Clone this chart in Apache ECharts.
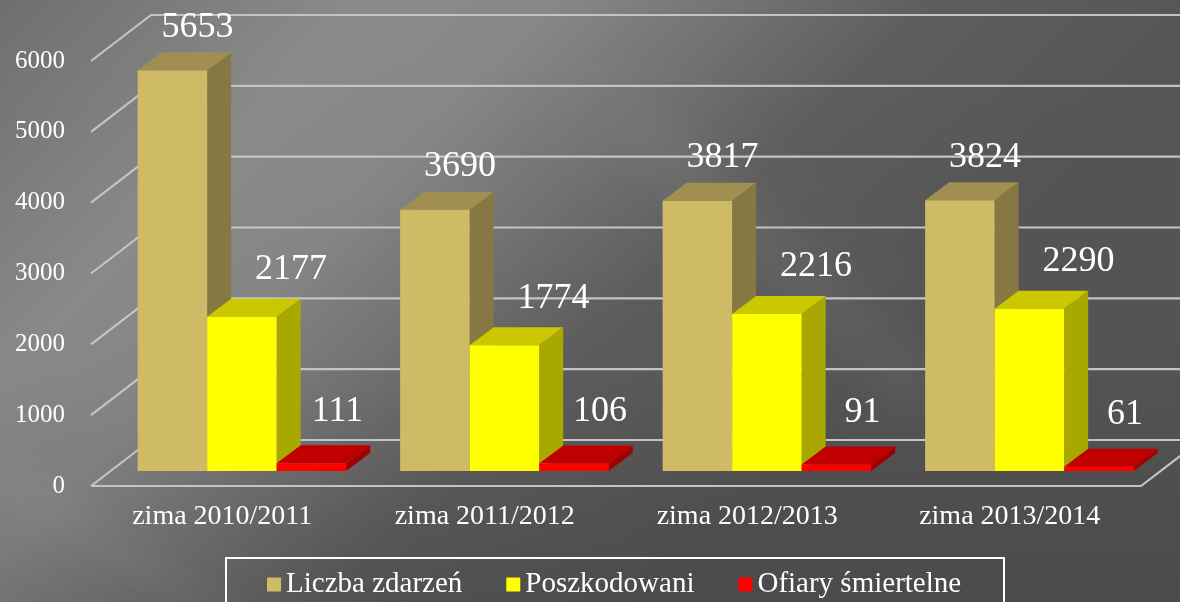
<!DOCTYPE html>
<html><head><meta charset="utf-8">
<script src="https://cdn.jsdelivr.net/npm/echarts@6/dist/echarts.min.js"></script>
<style>html,body{margin:0;padding:0;background:#555}#c{width:1180px;height:602px}</style>
</head><body><div id="c"></div>
<script>
const categories = ['zima 2010/2011', 'zima 2011/2012', 'zima 2012/2013', 'zima 2013/2014'];
const seriesNames = ['Liczba zdarzeń', 'Poszkodowani', 'Ofiary śmiertelne'];
const liczbaZdarzen = [5653, 3690, 3817, 3824];
const poszkodowani = [2177, 1774, 2216, 2290];
const ofiarySmiertelne = [111, 106, 91, 61];
const yTicks = [0, 1000, 2000, 3000, 4000, 5000, 6000];

const FONT = '"Liberation Serif", "Times New Roman", serif';
const DEPTH = [60, -46];      // wall depth offset
const BAR_FRONT = [19.6, -15];
const BAR_DEPTH = [24, -18];
const faceColors = [
  { front: '#CFBB66', top: '#A08F50', side: '#857843' },
  { front: '#FFFF00', top: '#CCC800', side: '#A8A800' },
  { front: '#FF0000', top: '#C00000', side: '#A00000' }
];
const labelOff = [[25, 43], [49, 47], [26, 52]];

function barRender(s) {
  return function (params, api) {
    const band = api.size([1, 0])[0];
    const idx = api.value(0), val = api.value(1);
    const c = api.coord([idx, val]);
    const c0 = api.coord([idx, 0]);
    const bw = band * 0.2648;
    const x0 = c0[0] - band * 0.397 + s * bw + BAR_FRONT[0];
    const x1 = x0 + bw;
    const yt = c[1] + BAR_FRONT[1];
    const yb = c0[1] + BAR_FRONT[1];
    const dx = BAR_DEPTH[0], dy = BAR_DEPTH[1];
    const col = faceColors[s];
    return {
      type: 'group',
      children: [
        { type: 'polygon', shape: { points: [[x1, yt], [x1 + dx, yt + dy], [x1 + dx, yb + dy], [x1, yb]] }, style: { fill: col.side } },
        { type: 'polygon', shape: { points: [[x0, yt], [x1, yt], [x1 + dx, yt + dy], [x0 + dx, yt + dy]] }, style: { fill: col.top } },
        { type: 'rect', shape: { x: x0, y: yt, width: bw, height: yb - yt }, style: { fill: col.front } },
        { type: 'text', style: { text: String(val), x: x0 + bw / 2 + labelOff[s][0], y: yt - labelOff[s][1],
            textAlign: 'center', textVerticalAlign: 'middle', fill: '#fff', font: '36px ' + FONT } }
      ]
    };
  };
}

function gridRender(params, api) {
  const cs = params.coordSys;
  const v = api.value(1);
  const p = api.coord([0, v]);
  const xl = cs.x, xr = cs.x + cs.width;
  const st = { stroke: '#c4c4c4', lineWidth: 2.2, fill: 'none' };
  const pts = [[xl, p[1]], [xl + DEPTH[0], p[1] + DEPTH[1]], [xr + DEPTH[0], p[1] + DEPTH[1]]];
  const children = [{ type: 'polyline', shape: { points: pts }, style: st }];
  if (v === 0) {
    children.push({ type: 'polyline', shape: { points: [[xl, p[1]], [xr, p[1]], [xr + DEPTH[0], p[1] + DEPTH[1]]] }, style: st });
  }
  return { type: 'group', children: children };
}

// soft streak: shape drawn off-canvas, only its blurred shadow shows
function softStreak(points, alpha, blur) {
  const OFF = 3000;
  return { type: 'polygon', z: -98, silent: true,
    shape: { points: points.map(p => [p[0] - OFF, p[1]]) },
    style: { fill: '#fff', shadowColor: 'rgba(255,255,255,' + alpha + ')', shadowBlur: blur, shadowOffsetX: OFF } };
}

const chart = echarts.init(document.getElementById('c'), null, { renderer: 'canvas' });
const dataSets = [liczbaZdarzen, poszkodowani, ofiarySmiertelne];
const option = {
  animation: false,
  color: faceColors.map(c => c.front),
  graphic: [
    { type: 'rect', z: -100, silent: true, shape: { x: 0, y: 0, width: 1180, height: 602 },
      style: { fill: new echarts.graphic.LinearGradient(0, 0, 620, 620, [
        { offset: 0, color: '#6e6e6e' }, { offset: 0.3, color: '#8b8b8b' }, { offset: 0.45, color: '#878787' },
        { offset: 0.75, color: '#5e5e5e' }, { offset: 1, color: '#555555' }], true) } },
    { type: 'rect', z: -99, silent: true, shape: { x: 0, y: 0, width: 1180, height: 602 },
      style: { fill: new echarts.graphic.LinearGradient(0, 0, 0, 1, [
        { offset: 0, color: 'rgba(0,0,0,0)' }, { offset: 0.6, color: 'rgba(0,0,0,0.02)' }, { offset: 1, color: 'rgba(0,0,0,0.12)' }]) } },
    softStreak([[600, 120], [660, 120], [960, 400], [900, 400]], 0.07, 50),
    softStreak([[0, 460], [0, 500], [200, 620], [260, 620]], 0.05, 40),
    { type: 'rect', z: 10, silent: true, shape: { x: 226, y: 558, width: 778, height: 70 },
      style: { fill: 'none', stroke: '#ffffff', lineWidth: 2 } }
  ],
  grid: { left: 91, right: 39, top: 61, bottom: 116, containLabel: false },
  xAxis: {
    type: 'category', data: categories,
    axisLine: { show: false }, axisTick: { show: false }, splitLine: { show: false },
    axisLabel: { color: '#fff', fontSize: 28, fontFamily: FONT, margin: 17 }
  },
  yAxis: {
    type: 'value', min: 0, max: 6000, interval: 1000,
    axisLine: { show: false }, axisTick: { show: false }, splitLine: { show: false },
    axisLabel: { color: '#fff', fontSize: 25, fontFamily: FONT, margin: 26, formatter: v => String(v) }
  },
  legend: {
    left: 262, top: 565, itemWidth: 14, itemHeight: 14, itemGap: 44,
    textStyle: { color: '#fff', fontSize: 29, fontFamily: FONT },
    data: seriesNames.map(n => ({ name: n, icon: 'rect' }))
  },
  series: [
    { type: 'custom', name: '_grid', z: 1, silent: true, renderItem: gridRender, data: yTicks.map(v => [0, v]), encode: { x: 0, y: 1 } }
  ].concat(dataSets.map((d, s) => ({
    type: 'custom', name: seriesNames[s], z: 3 + s,
    itemStyle: { color: faceColors[s].front },
    renderItem: barRender(s),
    data: d.map((v, i) => [i, v]), encode: { x: 0, y: 1 }
  })))
};
chart.setOption(option);
</script></body></html>
